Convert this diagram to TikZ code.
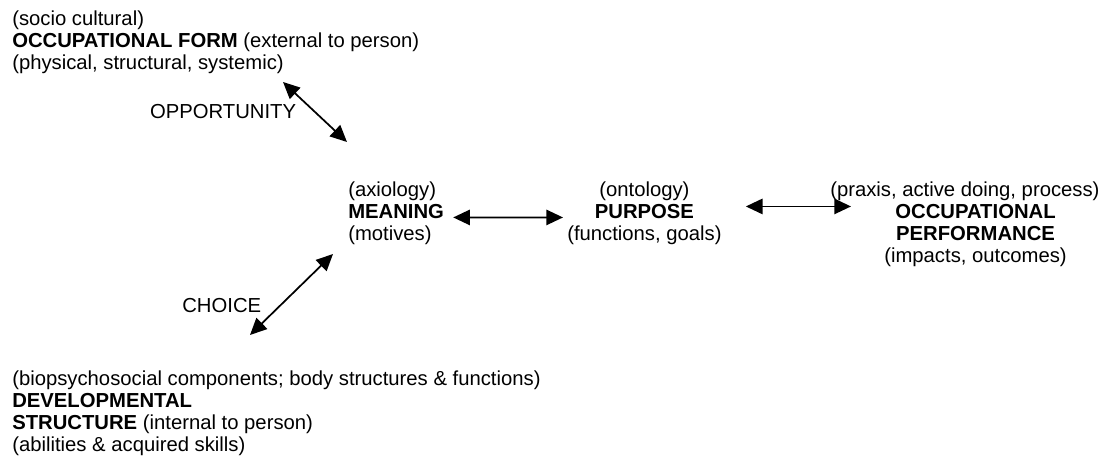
\documentclass[tikz,border=0pt]{standalone}
\usepackage{fontspec}
\setmainfont{Liberation Sans}
\usetikzlibrary{arrows.meta, positioning}
\tikzset{
    % Text block styles
    blocktext/.style={
        inner sep=0pt,
        align=left,
        font=\fontsize{15.2}{16.3}\selectfont
    },
    centretext/.style={
        inner sep=0pt,
        align=center,
        font=\fontsize{15.2}{16.3}\selectfont
    },
    linklabel/.style={
        inner sep=0pt,
        font=\fontsize{15.2}{16.3}\selectfont
    },
    % Arrow styles
    twoway/.style={
        {Triangle[length=12.5pt,width=11.5pt]}-{Triangle[length=12.5pt,width=11.5pt]},
        line width=1.3pt,
        black
    }
}

\begin{document}
\begin{tikzpicture}[x=0.75pt, y=-0.75pt]
    \useasboundingbox (0,0) rectangle (1110,459);

    \node[blocktext, anchor=north west] (form) at (12,11) {(socio cultural)\\\textbf{OCCUPATIONAL FORM} (external to person)\\(physical, structural, systemic)};
    \node[blocktext, anchor=north west] (meaning) at (348,182) {(axiology)\\\textbf{MEANING}\\(motives)};
    \node[centretext, anchor=north west] (purpose) at (567,182) {(ontology)\\\textbf{PURPOSE}\\(functions, goals)};
    \node[centretext, anchor=north west] (perf) at (830,182) {(praxis, active doing, process)\hspace*{16pt}\\\textbf{OCCUPATIONAL}\\\textbf{PERFORMANCE}\\(impacts, outcomes)};
    \node[blocktext, anchor=north west] (structure) at (12,371) {(biopsychosocial components; body structures \& functions)\\\textbf{DEVELOPMENTAL}\\\textbf{STRUCTURE} (internal to person)\\(abilities \& acquired skills)};

    \coordinate (oppA) at (283,82);
    \coordinate (oppB) at (347,142);
    \coordinate (choA) at (250,335);
    \coordinate (choB) at (333,254);

    \draw[twoway] (oppA) -- node[linklabel, left=13.5pt] (opp) {OPPORTUNITY} (oppB);
    \draw[twoway] (choA) -- node[linklabel, pos=0.37, left=14pt] (cho) {CHOICE} (choB);
    \draw[twoway] ([shift={(9,4)}]meaning.east) -- ([shift={(-4,4)}]purpose.west);
    \draw[twoway] ([shift={(24,-7)}]purpose.east) -- ([shift={(21,-7)}]purpose.east -| perf.west);
\end{tikzpicture}
\end{document}
